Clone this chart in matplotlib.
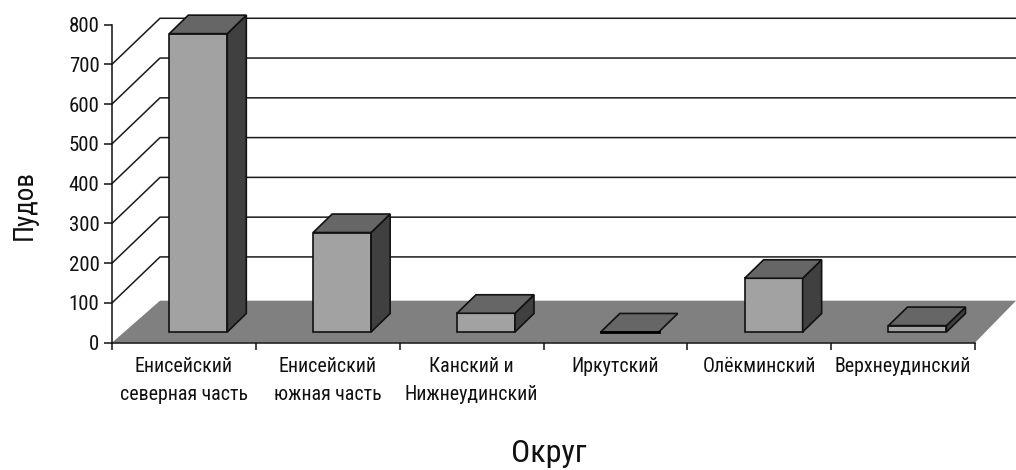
import matplotlib
matplotlib.use("Agg")
import matplotlib.pyplot as plt

categories = ["Енисейский\nсеверная часть", "Енисейский\nюжная часть", "Канский и\nНижнеудинский",
              "Иркутский", "Олёкминский", "Верхнеудинский"]
values = [750, 250, 47, 0, 135, 16]
y_ticks = [0, 100, 200, 300, 400, 500, 600, 700, 800]
grid_values = [100, 200, 300, 400, 500, 600, 700]

W, H = 1016, 470
plt.rcParams['font.family'] = ['Roboto Condensed', 'Liberation Sans', 'DejaVu Sans']
fig = plt.figure(figsize=(W / 100, H / 100), dpi=100, facecolor='white')
ax = fig.add_axes([112 / W, (H - 342.7) / H, 863 / W, 318.2 / H])
ax.set_xlim(0, 6)
ax.set_ylim(0, 800)
ax.patch.set_visible(False)
px_x = 6 / 863
px_y = 800 / 318.2

# wall and floor depth
dx_back = 48 * px_x
dy_grid = 46 * px_y
dy_floor = 42 * px_y
x_right = 904 * px_x

ax.fill([0, dx_back, x_right, 6], [0, dy_floor, dy_floor, 0], color='#808080', lw=0, zorder=1, clip_on=False)
for v in grid_values:
    ax.plot([0, dx_back, x_right], [v, v + dy_grid, v + dy_grid], color='#1a1a1a', lw=1.1, zorder=0.5, clip_on=False)

# bars
bar_w = 58 * px_x
bar_dx = 19 * px_x
bar_dy = 18.5 * px_y
base = 27
for i, v in enumerate(values):
    c = i + 0.6
    l, r = c - bar_w / 2, c + bar_w / 2
    t = base + v
    if v > 0:
        ax.bar(c, v, width=bar_w, bottom=base, color='#A2A2A2', edgecolor='#111111', lw=1.2, zorder=3)
        ax.fill([r, r + bar_dx, r + bar_dx, r], [base, base + bar_dy, t + bar_dy, t],
                facecolor='#404040', edgecolor='#111111', lw=1.2, zorder=3, clip_on=False)
    ax.fill([l, l + bar_dx, r + bar_dx, r], [t, t + bar_dy, t + bar_dy, t],
            facecolor='#666666', edgecolor='#111111', lw=1.2, zorder=3, clip_on=False)
    if v == 0:
        ax.plot([l, r], [t, t], color='black', lw=2, zorder=4)

for s in ('top', 'right'):
    ax.spines[s].set_visible(False)
for s in ('left', 'bottom'):
    ax.spines[s].set_color('#111111')
    ax.spines[s].set_linewidth(1.1)
    ax.spines[s].set_zorder(5)

ax.set_yticks(y_ticks)
ax.set_yticklabels([str(v) for v in y_ticks], fontsize=15, color='#111111')
ax.tick_params(axis='y', length=6, width=1.1, pad=3, color='#111111')
ax.set_xticks(range(7))
ax.set_xticklabels([])
ax.tick_params(axis='x', which='major', length=5, width=1.1, color='#111111')
ax.set_xticks([i + 0.5 for i in range(6)], minor=True)
ax.set_xticklabels(categories, minor=True, fontsize=14.3, color='#111111', linespacing=1.57)
ax.tick_params(axis='x', which='minor', length=0, pad=10.5)

fig.text(24 / W, 1 - 205 / H, "Пудов", rotation=90, ha='center', va='center', fontsize=19.5, color='#111111')
fig.text(549 / W, 1 - 454 / H, "Округ", ha='center', va='center', fontsize=23, color='#111111')

fig.savefig("out.png", dpi=100)
